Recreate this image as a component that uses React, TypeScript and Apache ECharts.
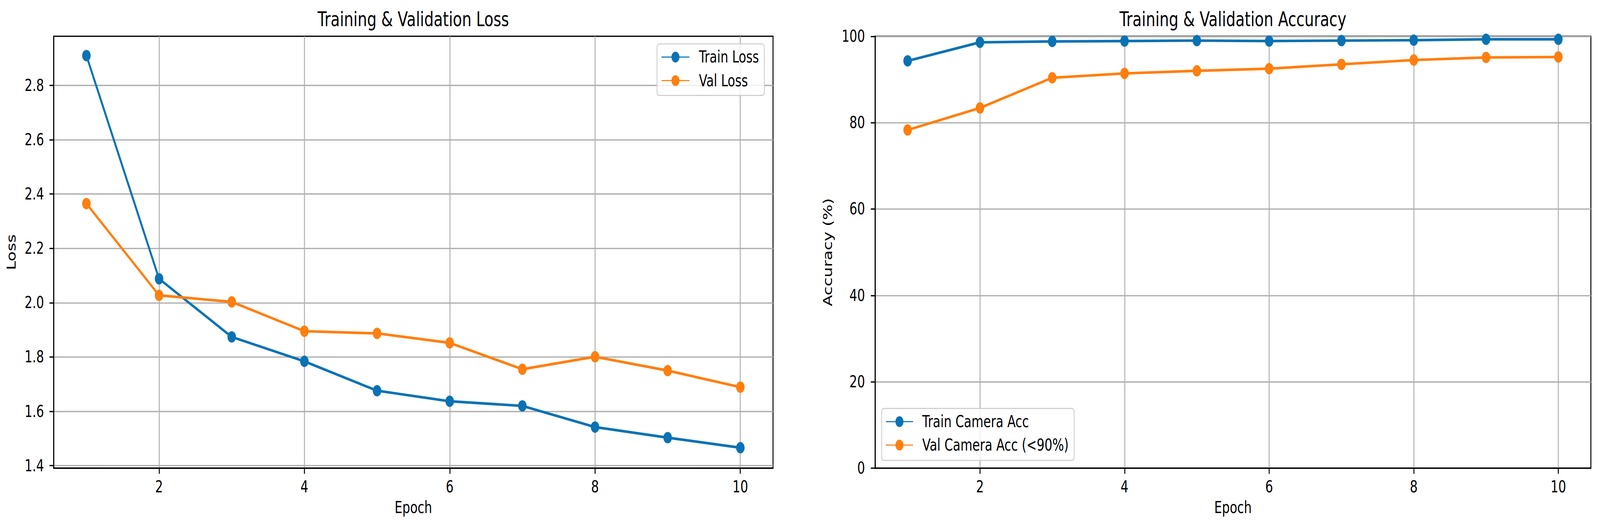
import React, { useEffect, useRef } from "react";
import * as echarts from "echarts";

// ---- data ----
const epochs = [1, 2, 3, 4, 5, 6, 7, 8, 9, 10];
const trainLoss = [2.91, 2.088, 1.874, 1.784, 1.676, 1.637, 1.62, 1.542, 1.503, 1.466];
const valLoss = [2.365, 2.027, 2.003, 1.895, 1.887, 1.852, 1.755, 1.801, 1.75, 1.689];
const trainAcc = [94.3, 98.6, 98.8, 98.9, 99.0, 98.9, 99.0, 99.1, 99.3, 99.3];
const valAcc = [78.3, 83.4, 90.4, 91.4, 92.0, 92.5, 93.5, 94.5, 95.1, 95.2];
const epochTicks = [2, 4, 6, 8, 10];
const lossTicks = [1.4, 1.6, 1.8, 2.0, 2.2, 2.4, 2.6, 2.8];

const titles = ["Training & Validation Loss", "Training & Validation Accuracy"];
const lossNames = ["Train Loss", "Val Loss"];
const accNames = ["Train Camera Acc", "Val Camera Acc (<90%)"];

// ---- layout / style ----
const S = 1.33; // vertical stretch of the reference picture
const W = 4123;
const HH = 1342;
const H = HH / S;
const FONT = "DejaVu Sans";
const BLUE = "#0a72b4";
const ORANGE = "#ff7f0e";
const FS = 31.5;

const pairs = (ys: number[]) => epochs.map((x, i) => [x, ys[i]]);

function xAxisCfg(gridIndex: number) {
  return {
    type: "value",
    gridIndex,
    min: 0.55,
    max: 10.45,
    name: "Epoch",
    nameLocation: "middle",
    nameGap: 60,
    nameTextStyle: { fontSize: FS, color: "#000", fontFamily: FONT },
    axisLine: { show: true, onZero: false, lineStyle: { color: "#000", width: 2.5 } },
    axisTick: { show: true, length: 11, lineStyle: { color: "#000", width: 2.5 }, customValues: epochTicks },
    axisLabel: { fontSize: FS, color: "#000", fontFamily: FONT, margin: 20, customValues: epochTicks },
    splitLine: { show: true, lineStyle: { color: "#b0b0b0", width: 2.5 } },
  };
}

function seriesCfg(name: string, ys: number[], color: string, idx: number) {
  return {
    type: "line",
    name,
    xAxisIndex: idx,
    yAxisIndex: idx,
    data: pairs(ys),
    symbol: "circle",
    symbolSize: 22,
    showSymbol: true,
    color,
    itemStyle: { color },
    lineStyle: { color, width: 5 },
  };
}

function legendCfg(names: string[], left: number, top: number, pad: number[], itemWidth: number, textPad: number, gap: number) {
  return {
    orient: "vertical",
    left,
    top,
    data: names,
    padding: pad,
    itemWidth,
    itemHeight: 26,
    itemGap: gap,
    backgroundColor: "rgba(255,255,255,0.8)",
    borderColor: "#cccccc",
    borderWidth: 2,
    borderRadius: 6,
    textStyle: { fontSize: FS, color: "#000", fontFamily: FONT, lineHeight: 32, padding: [0, 0, 0, textPad] },
  };
}

export default function App() {
  const ref = useRef<HTMLDivElement>(null);
  const vw = typeof window !== "undefined" ? window.innerWidth || W : W;
  const vh = typeof window !== "undefined" ? window.innerHeight || HH : HH;
  const sx = vw / W;
  const sy = (vh / HH) * S;
  useEffect(() => {
    const chart = echarts.init(ref.current!, null, { renderer: "svg" });
    const option: any = {
      animation: false,
      backgroundColor: "#fff",
      textStyle: { fontFamily: FONT },
      title: [
        {
          text: titles[0],
          left: 1065,
          top: 36.8,
          padding: 0,
          textAlign: "center",
          textVerticalAlign: "middle",
          textStyle: { fontSize: 38.5, fontWeight: "normal", color: "#000", fontFamily: FONT },
        },
        {
          text: titles[1],
          left: 3177,
          top: 36.8,
          padding: 0,
          textAlign: "center",
          textVerticalAlign: "middle",
          textStyle: { fontSize: 38.5, fontWeight: "normal", color: "#000", fontFamily: FONT },
        },
      ],
      legend: [
        legendCfg(lossNames, 1693, 84.6, [9.3, 14, 12.6, 10.6], 72, 19.4, 13.3),
        legendCfg(accNames, 2272, 786.5, [9.4, 14, 13.4, 9.8], 70, 18.7, 13.2),
      ],
      grid: [
        { left: 138.4, top: 69.85, width: 1853.6, height: 831.5, show: true, borderColor: "#000", borderWidth: 2.5, backgroundColor: "transparent" },
        { left: 2255, top: 69.85, width: 1844.5, height: 831.5, show: true, borderColor: "#000", borderWidth: 2.5, backgroundColor: "transparent" },
      ],
      xAxis: [xAxisCfg(0), xAxisCfg(1)],
      yAxis: [
        {
          type: "value",
          gridIndex: 0,
          min: 1.391,
          max: 2.981,
          name: "Loss",
          nameLocation: "middle",
          nameGap: 92.6,
          nameTextStyle: { fontSize: FS, color: "#000", fontFamily: FONT },
          axisLine: { show: true, lineStyle: { color: "#000", width: 2.5 } },
          axisTick: { show: true, length: 11, lineStyle: { color: "#000", width: 2.5 }, customValues: lossTicks },
          axisLabel: {
            fontSize: FS,
            color: "#000",
            fontFamily: FONT,
            margin: 25,
            customValues: lossTicks,
            formatter: (v: number) => v.toFixed(1),
          },
          splitLine: { show: true, lineStyle: { color: "#b0b0b0", width: 2.5 } },
        },
        {
          type: "value",
          gridIndex: 1,
          min: 0,
          max: 100,
          interval: 20,
          name: "Accuracy (%)",
          nameLocation: "middle",
          nameGap: 105.8,
          nameTextStyle: { fontSize: FS, color: "#000", fontFamily: FONT },
          axisLine: { show: true, lineStyle: { color: "#000", width: 2.5 } },
          axisTick: { show: true, length: 11, lineStyle: { color: "#000", width: 2.5 } },
          axisLabel: { fontSize: FS, color: "#000", fontFamily: FONT, margin: 26 },
          splitLine: { show: true, lineStyle: { color: "#b0b0b0", width: 2.5 } },
        },
      ],
      series: [
        seriesCfg(lossNames[0], trainLoss, BLUE, 0),
        seriesCfg(lossNames[1], valLoss, ORANGE, 0),
        seriesCfg(accNames[0], trainAcc, BLUE, 1),
        seriesCfg(accNames[1], valAcc, ORANGE, 1),
      ],
    };
    chart.setOption(option);
    return () => chart.dispose();
  }, []);
  return (
    <div style={{ position: "fixed", left: 0, top: 0, width: "100vw", height: "100vh", overflow: "hidden", background: "#fff" }}>
      <div ref={ref} style={{ width: W, height: H, transform: `scale(${sx}, ${sy})`, transformOrigin: "0 0" }} />
    </div>
  );
}
